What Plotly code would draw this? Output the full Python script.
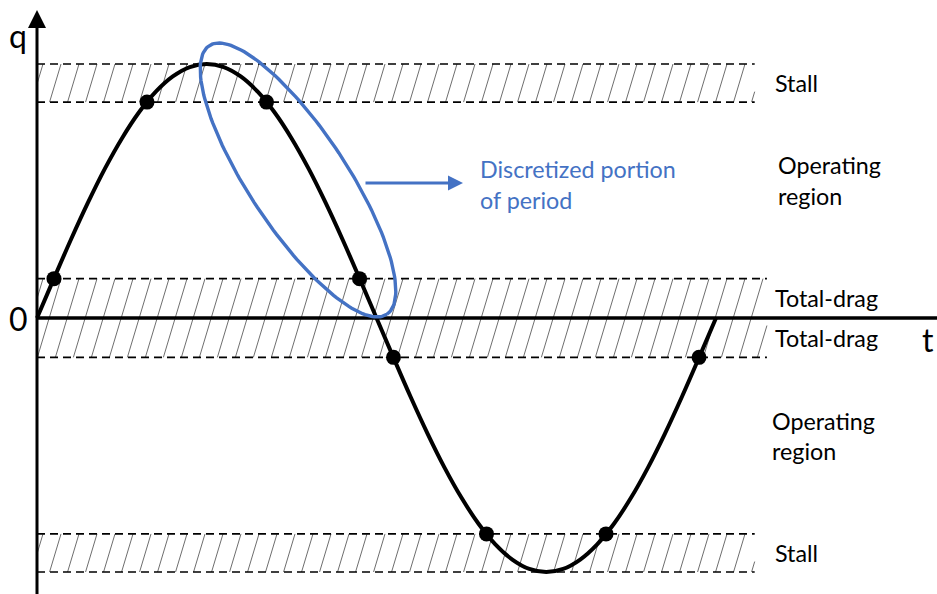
import math
import plotly.graph_objects as go

# ---------------- data ----------------
t_curve = [0.000, 0.025, 0.050, 0.075, 0.100, 0.125, 0.150, 0.175, 0.200, 0.225,
           0.250, 0.275, 0.300, 0.325, 0.350, 0.375, 0.400, 0.425, 0.450, 0.475,
           0.500, 0.525, 0.550, 0.575, 0.600, 0.625, 0.650, 0.675, 0.700, 0.725,
           0.750, 0.775, 0.800, 0.825, 0.850, 0.875, 0.900, 0.925, 0.950, 0.975, 1.000]
q_curve = [0.000, 0.156, 0.309, 0.454, 0.588, 0.707, 0.809, 0.891, 0.951, 0.988,
           1.000, 0.988, 0.951, 0.891, 0.809, 0.707, 0.588, 0.454, 0.309, 0.156,
           0.000, -0.156, -0.309, -0.454, -0.588, -0.707, -0.809, -0.891, -0.951, -0.988,
           -1.000, -0.988, -0.951, -0.891, -0.809, -0.707, -0.588, -0.454, -0.309, -0.156, 0.000]

t_dots = [0.025, 0.162, 0.338, 0.475, 0.525, 0.662, 0.838, 0.975]
q_dots = [0.155, 0.850, 0.850, 0.155, -0.155, -0.850, -0.850, -0.155]

band_low = [0.850, -0.155, -1.000]
band_high = [1.000, 0.155, -0.850]
band_end = [1.057, 1.075, 1.057]

label_text = ["Stall", "Operating", "region", "Total-drag", "Total-drag",
              "Operating", "region", "Stall"]
note_lines = ["Discretized portion", "of period"]

# ---------------- layout constants ----------------
W, H = 937, 594
X0, Y0 = 37, 318          # pixel position of the origin
SX, SY = 679, 254         # pixels per unit t / unit q
BLUE = "#4472C4"


def X(px):
    return (px - X0) / SX


def Y(py):
    return (Y0 - py) / SY


fig = go.Figure()

# hatching of the bands
hx, hy = [], []
for lo, hi, xe in zip(band_low, band_high, band_end):
    yb = Y0 - SY * lo
    yt = Y0 - SY * hi
    h = yb - yt
    run = 0.3 * h
    xend = X0 + SX * xe
    xb = X0 - run + 6
    while xb < xend:
        x1, y1, x2, y2 = xb, yb, xb + run, yt
        if x1 < X0:
            s = (X0 - xb) / run
            x1, y1 = X0, yb - s * h
        if x2 > xend:
            s = (xend - xb) / run
            x2, y2 = xend, yb - s * h
        if x2 > x1:
            hx += [X(x1), X(x2), None]
            hy += [Y(y1), Y(y2), None]
        xb += 18
fig.add_trace(go.Scatter(x=hx, y=hy, mode="lines",
                         line=dict(color="#5e5e5e", width=0.9),
                         hoverinfo="skip", showlegend=False))

# dashed band borders
for lo, hi, xe in zip(band_low, band_high, band_end):
    for lev in (lo, hi):
        fig.add_trace(go.Scatter(x=[0, xe], y=[lev, lev], mode="lines",
                                 line=dict(color="black", width=1.7, dash="8px,5px"),
                                 hoverinfo="skip", showlegend=False))

# t axis
fig.add_trace(go.Scatter(x=[0, X(W + 5)], y=[0, 0], mode="lines",
                         line=dict(color="black", width=3.4),
                         hoverinfo="skip", showlegend=False))

# curve
fig.add_trace(go.Scatter(x=t_curve, y=q_curve, mode="lines",
                         line=dict(color="black", width=4, shape="spline", smoothing=1),
                         hoverinfo="skip", showlegend=False))

# discretization dots
fig.add_trace(go.Scatter(x=t_dots, y=q_dots, mode="markers",
                         marker=dict(color="black", size=15),
                         hoverinfo="skip", showlegend=False))

# ellipse around the discretized portion
cx, cy, ea, eb, th = 298, 180, 161, 49, math.radians(56.5)
ex, ey = [], []
for i in range(181):
    p = 2 * math.pi * i / 180
    px = cx + ea * math.cos(p) * math.cos(th) - eb * math.sin(p) * math.sin(th)
    py = cy + ea * math.cos(p) * math.sin(th) + eb * math.sin(p) * math.cos(th)
    ex.append(X(px))
    ey.append(Y(py))
fig.add_trace(go.Scatter(x=ex, y=ey, mode="lines",
                         line=dict(color=BLUE, width=3.4),
                         hoverinfo="skip", showlegend=False))

annotations = []
# q axis with arrow
annotations.append(dict(x=0, y=Y(10), ax=0, ay=Y(H + 5), xref="x", yref="y",
                        axref="x", ayref="y", text="", showarrow=True,
                        arrowhead=2, arrowsize=1.2, arrowwidth=3, arrowcolor="black"))
# blue arrow
annotations.append(dict(x=X(463), y=Y(183), ax=X(364), ay=Y(183), xref="x", yref="y",
                        axref="x", ayref="y", text="", showarrow=True,
                        arrowhead=2, arrowsize=1, arrowwidth=3, arrowcolor=BLUE))

FONT = "Lato"


def txt(s, px, py, size=23.3, color="black", xanchor="left"):
    annotations.append(dict(text=s, x=px / W, y=1 - py / H, xref="paper", yref="paper",
                            xanchor=xanchor, yanchor="middle", showarrow=False,
                            font=dict(family=FONT, size=size, color=color)))


label_pos = [(773, 83), (776, 165), (776, 196), (773, 298), (773, 338),
             (770, 421), (770, 451), (773, 553)]
for s, (px, py) in zip(label_text, label_pos):
    txt(s, px, py)

for s, (px, py) in zip(note_lines, [(478, 169), (478, 200)]):
    txt(s, px, py, color=BLUE)

txt("q", 18, 35, size=32, xanchor="center")
txt("0", 18, 318, size=32, xanchor="center")
txt("t", 928, 340, size=32, xanchor="center")

fig.update_layout(
    width=W, height=H,
    margin=dict(l=0, r=0, t=0, b=0),
    paper_bgcolor="white", plot_bgcolor="white",
    xaxis=dict(range=[X(0), X(W)], visible=False, fixedrange=True),
    yaxis=dict(range=[Y(H), Y(0)], visible=False, fixedrange=True),
    annotations=annotations,
    showlegend=False,
)

fig.write_html(
    "out.html",
    config={"displayModeBar": False},
    post_script="document.body.style.margin='0';document.body.style.overflow='hidden';",
)
